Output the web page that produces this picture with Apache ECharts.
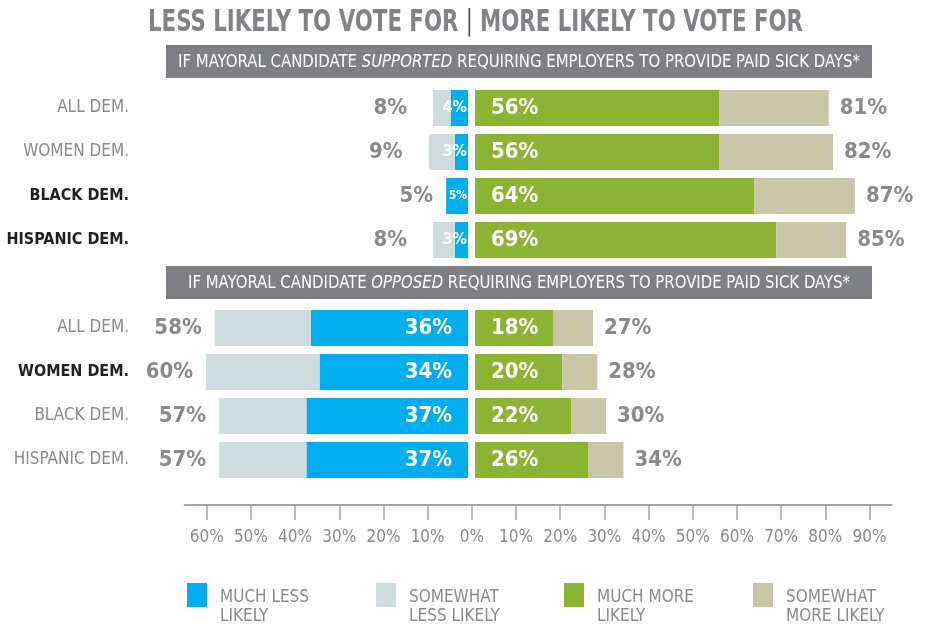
<!DOCTYPE html>
<html>
<head>
<meta charset="utf-8">
<script src="https://cdn.jsdelivr.net/npm/echarts@6/dist/echarts.min.js"></script>
<style>
  html, body { margin: 0; padding: 0; background: #fff; }
  #chart { width: 930px; height: 629px; }
</style>
</head>
<body>
<div id="chart"></div>
<script>
// ---- data ----
const rowNames = ['ALL DEM.', 'WOMEN DEM.', 'BLACK DEM.', 'HISPANIC DEM.'];
const supportedMuchLess = [4, 3, 5, 3];
const supportedTotalLess = [8, 9, 5, 8];
const supportedMuchMore = [56, 56, 64, 69];
const supportedTotalMore = [81, 82, 87, 85];
const opposedMuchLess = [36, 34, 37, 37];
const opposedTotalLess = [58, 60, 57, 57];
const opposedMuchMore = [18, 20, 22, 26];
const opposedTotalMore = [27, 28, 30, 34];
const supportedBold = [false, false, true, true];
const opposedBold = [false, true, false, false];
const tickValues = [-60, -50, -40, -30, -20, -10, 0, 10, 20, 30, 40, 50, 60, 70, 80, 90];
const seriesNames = ['MUCH LESS LIKELY', 'SOMEWHAT LESS LIKELY', 'MUCH MORE LIKELY', 'SOMEWHAT MORE LIKELY'];
const legendLabels = ['MUCH LESS\nLIKELY', 'SOMEWHAT\nLESS LIKELY', 'MUCH MORE\nLIKELY', 'SOMEWHAT\nMORE LIKELY'];
const titleLeft = 'LESS LIKELY TO VOTE FOR';
const titleRight = 'MORE LIKELY TO VOTE FOR';
const bandPre = 'IF MAYORAL CANDIDATE ';
const bandPost = ' REQUIRING EMPLOYERS TO PROVIDE PAID SICK DAYS*';
const sectionVerbs = ['SUPPORTED', 'OPPOSED'];

// ---- styles ----
const FAM = '"DejaVu Sans Condensed", "Liberation Sans Narrow", sans-serif';
const GRAY = '#88898d';
const colors = ['#00aeef', '#cfdcdd', '#8db332', '#c8c6a7'];

const ctx = document.createElement('canvas').getContext('2d');
function measure(text, font) { ctx.font = font; return ctx.measureText(text).width; }

// ---- build ----
const cats = [''].concat(rowNames, [''], rowNames);
const boldFlags = [false].concat(supportedBold, [false], opposedBold);
function slots(a, b) { return ['-'].concat(a, ['-'], b); }
const diff = (t, m) => t.map((v, i) => v - m[i]);
const muchLess = slots(supportedMuchLess, opposedMuchLess);
const somewhatLess = slots(diff(supportedTotalLess, supportedMuchLess), diff(opposedTotalLess, opposedMuchLess));
const muchMore = slots(supportedMuchMore, opposedMuchMore);
const somewhatMore = slots(diff(supportedTotalMore, supportedMuchMore), diff(opposedTotalMore, opposedMuchMore));
const totalLess = slots(supportedTotalLess, opposedTotalLess);
const totalMore = slots(supportedTotalMore, opposedTotalMore);

const pctLabel = { fontFamily: FAM, fontWeight: 'bold', fontSize: 22 };

const muchLessData = muchLess.map((v, i) => (v !== '-' && v < 10)
  ? { value: v, label: { distance: 1, fontSize: somewhatLess[i] === 0 ? 12 : 16 } } : v);
// first section: totals sit a little further from short stacks
const somewhatLessData = somewhatLess.map((v, i) => (v !== '-' && i < 5 && v > 0)
  ? { value: v, label: { distance: 26 } } : v);

// title, scaled to the reference's width
const tFontB = 'bold 30px ' + FAM, tFontS = 'normal 28px ' + FAM;
const titleW = measure(titleLeft + ' ', tFontB) + measure('|', tFontS) + measure(' ' + titleRight, tFontB);
const titleScale = 655 / titleW;

function band(y, verb, targetW) {
  const fN = 'normal 18px ' + FAM, fI = 'italic 18px ' + FAM;
  const w = measure(bandPre, fN) + measure(verb, fI) + measure(bandPost, fN);
  return [
    { type: 'rect', shape: { x: 166, y: y, width: 706, height: 33 }, style: { fill: '#7f8084' }, z: 10 },
    { type: 'text', x: 519, y: y + 17, z: 11, scaleX: targetW / w,
      style: {
        text: '{n|' + bandPre + '}{i|' + verb + '}{n|' + bandPost + '}',
        align: 'center', verticalAlign: 'middle',
        rich: {
          n: { fontFamily: FAM, fontSize: 18, fill: '#fff' },
          i: { fontFamily: FAM, fontSize: 18, fill: '#fff', fontStyle: 'italic' }
        }
      } }
  ];
}

const legendX = [159, 348, 536, 725];

const option = {
  animation: false,
  backgroundColor: '#ffffff',
  graphic: [
    { type: 'text', x: 148, y: 23, scaleX: titleScale, z: 11,
      style: {
        text: '{a|' + titleLeft + ' }{s||}{a| ' + titleRight + '}',
        align: 'left', verticalAlign: 'middle',
        rich: {
          a: { fontFamily: FAM, fontWeight: 'bold', fontSize: 30, fill: '#818286' },
          s: { fontFamily: FAM, fontWeight: 'normal', fontSize: 28, fill: '#4a4a4d' }
        }
      } }
  ].concat(band(45, sectionVerbs[0], 682), band(266, sectionVerbs[1], 662)),
  legend: seriesNames.map((n, i) => ({
    data: [n], left: legendX[i] + 28, top: 583, padding: 0,
    itemWidth: 28, itemHeight: 49, icon: 'path://M0,0H20V24H0Z M28,49',
    selectedMode: false,
    formatter: name => legendLabels[seriesNames.indexOf(name)],
    textStyle: { fontFamily: FAM, fontSize: 17, lineHeight: 19, color: GRAY }
  })),
  grid: [
    { left: 206, width: 262, top: 42, height: 440, outerBoundsMode: 'none', containLabel: false },
    { left: 475, width: 393, top: 42, height: 440, outerBoundsMode: 'none', containLabel: false },
    { left: 184.6, width: 707, top: 300, height: 205, outerBoundsMode: 'none', containLabel: false }
  ],
  xAxis: [
    { gridIndex: 0, type: 'value', min: 0, max: 60, inverse: true, show: false },
    { gridIndex: 1, type: 'value', min: 0, max: 90, show: false },
    { gridIndex: 2, type: 'value', min: -65, max: 95, position: 'bottom',
      axisLine: { show: true, lineStyle: { color: '#a3a3a3', width: 2 } },
      axisTick: { show: true, customValues: tickValues, length: 15, lineStyle: { color: '#a3a3a3', width: 1.5 } },
      axisLabel: { customValues: tickValues, margin: 24, fontFamily: FAM, fontSize: 17, color: GRAY,
        formatter: v => Math.abs(v) + '%' },
      splitLine: { show: false } }
  ],
  yAxis: [
    { gridIndex: 0, type: 'category', data: cats, inverse: true,
      axisLine: { show: false }, axisTick: { show: false },
      axisLabel: { margin: 77,
        formatter: (v, i) => v === '' ? '' : (boldFlags[i] ? '{b|' + v + '}' : '{n|' + v + '}'),
        rich: {
          n: { fontFamily: FAM, fontSize: 17, color: GRAY },
          b: { fontFamily: FAM, fontSize: 16, fontWeight: 'bold', color: '#231f20' }
        } } },
    { gridIndex: 1, type: 'category', data: cats, inverse: true, show: false },
    { gridIndex: 2, type: 'value', show: false }
  ],
  series: [
    { name: seriesNames[0], type: 'bar', stack: 'less', xAxisIndex: 0, yAxisIndex: 0,
      barWidth: 36, data: muchLessData, itemStyle: { color: colors[0] },
      label: Object.assign({ show: true, position: 'insideRight', distance: 16, color: '#fff', formatter: '{c}%' }, pctLabel) },
    { name: seriesNames[1], type: 'bar', stack: 'less', xAxisIndex: 0, yAxisIndex: 0,
      barWidth: 36, data: somewhatLessData, itemStyle: { color: colors[1] },
      label: Object.assign({ show: true, position: 'left', distance: 13, color: GRAY,
        formatter: p => totalLess[p.dataIndex] + '%' }, pctLabel) },
    { name: seriesNames[2], type: 'bar', stack: 'more', xAxisIndex: 1, yAxisIndex: 1,
      barWidth: 36, data: muchMore, itemStyle: { color: colors[2] },
      label: Object.assign({ show: true, position: 'insideLeft', distance: 16, color: '#fff', formatter: '{c}%' }, pctLabel) },
    { name: seriesNames[3], type: 'bar', stack: 'more', xAxisIndex: 1, yAxisIndex: 1,
      barWidth: 36, data: somewhatMore, itemStyle: { color: colors[3] },
      label: Object.assign({ show: true, position: 'right', distance: 11, color: GRAY,
        formatter: p => totalMore[p.dataIndex] + '%' }, pctLabel) }
  ]
};

const chart = echarts.init(document.getElementById('chart'), null, { renderer: 'canvas' });
chart.setOption(option);
</script>
</body>
</html>
